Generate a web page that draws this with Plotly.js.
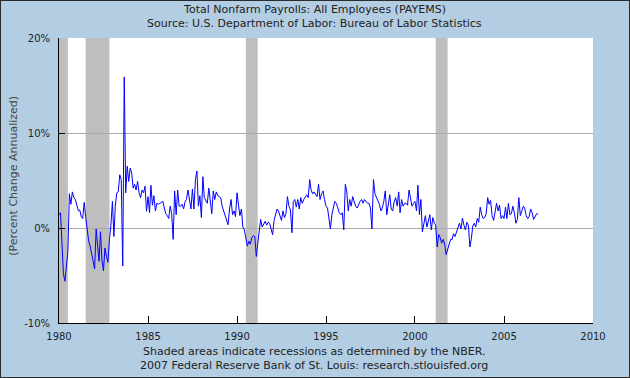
<!DOCTYPE html>
<html>
<head>
<meta charset="utf-8">
<script src="https://cdn.plot.ly/plotly-3.0.1.min.js"></script>
<style>
html,body{margin:0;padding:0;background:#B3CDE3;}
#chart{width:628px;height:376px;border:1px solid #2b2b2b;}
</style>
</head>
<body>
<div id="chart"></div>
<script>
// Monthly percent change (annualized), Jan 1980 - Dec 2006
const startYear = 1980;
const pct1980s = [
  1.4, 1.6, -1.5, -4.8, -5.6, -4.0, -2.5, 3.6, 2.5, 3.8, 3.2, 3.0,     // 1980
  2.5, 1.8, 1.9, 1.2, 1.0, 2.7, 1.2, -0.5, -1.4, -1.9, -2.8, -3.7,     // 1981
  -4.3, -0.1, -1.9, -3.5, -0.4, -3.4, -4.5, -2.1, -3.0, -3.6, -1.2, 0.3, // 1982
  2.8, -0.9, 2.3, 3.7, 3.8, 5.6, 5.1, -4.0, 15.9, 3.7, 6.5, 4.9,        // 1983
  6.3, 5.8, 4.2, 4.6, 4.0, 4.9, 3.7, 3.2, 4.0, 3.7, 4.4, 1.75,         // 1984
  3.3, 1.6, 4.5, 2.4, 3.4, 1.8, 2.6, 2.5, 2.6, 2.7, 2.8, 2.1,          // 1985
  1.5, 1.3, 1.0, 2.3, 1.5, -1.2, 3.9, 1.4, 4.0, 2.3, 2.3, 2.5,         // 1986
  2.0, 2.8, 3.0, 4.0, 2.7, 2.0, 4.1, 2.0, 5.1, 6.0, 2.3, 3.4,          // 1987
  1.1, 5.4, 3.2, 2.8, 2.6, 4.2, 2.5, 1.5, 3.9, 3.0, 3.8, 3.4,          // 1988
  3.3, 3.2, 2.3, 1.8, 1.3, 0.7, 0.35, 2.0, 3.0, 1.4, 1.8, 1.2          // 1989
];
const pct1990s = [
  3.7, 2.4, 1.3, 2.0, 0.1, -0.2, -1.2, -1.9, -1.4, -1.7, -1.0, -0.8,   // 1990
  -0.9, -3.0, -1.7, -0.35, 0.9, 0.1, 0.4, 0.7, 0.3, 0.6, 0.5, -0.2,    // 1991
  -0.7, 0.8, 1.4, 2.0, 1.8, 1.2, 0.8, 1.8, 1.1, 1.5, 3.3, 2.3,         // 1992
  1.9, -0.5, 2.8, 3.0, 2.2, 3.0, 2.0, 3.2, 2.6, 3.0, 3.2, 3.5,         // 1993
  3.2, 5.1, 4.0, 3.6, 3.8, 3.6, 3.3, 4.6, 3.0, 3.6, 3.9, 3.0,          // 1994
  2.3, 2.1, 1.1, -0.1, 1.4, 2.3, 2.8, 2.6, 2.1, 1.6, 1.4, 1.6,         // 1995
  -0.2, 4.6, 3.9, 1.8, 3.0, 2.3, 3.3, 2.8, 2.3, 2.1, 2.5, 2.8,         // 1996
  3.0, 2.6, 3.0, 2.8, 2.6, 2.6, 2.1, -0.1, 5.1, 3.6, 3.2, 3.0,         // 1997
  2.5, 1.8, 2.1, 2.8, 3.9, 1.4, 2.3, 3.5, 2.0, 1.8, 2.8, 3.2,          // 1998
  2.3, 3.8, 1.6, 3.0, 2.3, 2.6, 2.6, 2.4, 4.0, 3.0, 2.3, 2.6           // 1999
];
const pct2000s = [
  2.8, 1.8, 4.5, 1.4, 3.0, -0.4, 0.7, 1.3, 0.1, 0.8, 1.4, -0.2,        // 2000
  1.1, 0.5, 0.3, -2.0, -0.7, -1.0, -1.6, -1.2, -1.7, -2.8, -2.3, -1.7, // 2001
  -1.2, -1.2, -0.6, -0.9, -0.4, -0.1, 0.5, -0.1, 1.05, 0.3, -0.2, 0.6, // 2002
  0.3, -2.0, -1.2, 0.2, 0.5, 0.1, 1.0, 0.6, 2.2, 1.4, 1.0, 1.1,        // 2003
  1.5, 3.2, 2.5, 2.9, 1.3, 0.8, 1.8, 2.6, 1.8, 2.4, 1.0, 1.3,          // 2004
  1.0, 2.2, 1.0, 2.6, 1.4, 1.5, 2.3, 1.6, 0.5, 0.9, 3.2, 1.3,          // 2005
  1.8, 2.3, 2.1, 1.3, 1.0, 1.2, 2.0, 1.6, 0.9, 1.3, 1.5, 1.5           // 2006
];
const recessionStart = ['1980-01-01', '1981-07-01', '1990-07-01', '2001-03-01'];
const recessionEnd   = ['1980-07-01', '1982-11-01', '1991-03-01', '2001-11-01'];
const yTickVals = [-10, 0, 10, 20];
const yTickText = ['-10%', '0%', '10%', '20%'];
const xTickVals = ['1980-01-01','1985-01-01','1990-01-01','1995-01-01','2000-01-01','2005-01-01','2010-01-01'];
const xTickText = ['1980','1985','1990','1995','2000','2005','2010'];

const values = pct1980s.concat(pct1990s, pct2000s);
const dates = values.map((v, i) => {
  const y = startYear + Math.floor(i / 12);
  const m = (i % 12) + 1;
  return y + '-' + (m < 10 ? '0' + m : m) + '-01';
});

const FONT = 'DejaVu Sans, Verdana, sans-serif';

const trace = {
  x: dates, y: values, type: 'scatter', mode: 'lines',
  line: {color: '#0000FF', width: 1}, hoverinfo: 'skip', showlegend: false
};

const shapes = recessionStart.map((s, i) => ({
  type: 'rect', xref: 'x', yref: 'paper', x0: s, x1: recessionEnd[i], y0: 0, y1: 1,
  fillcolor: '#BEBEBE', line: {width: 0}, layer: 'between'
}));

const layout = {
  width: 628, height: 376,
  margin: {l: 57.7, r: 36.3, t: 37.3, b: 53.7, pad: 0},
  paper_bgcolor: '#B3CDE3', plot_bgcolor: '#FFFFFF',
  font: {family: FONT, size: 10, color: '#222222'},
  title: {text: 'Total Nonfarm Payrolls: All Employees (PAYEMS)', font: {family: FONT, size: 11, color: '#222222'},
          x: 0.5, xref: 'container', xanchor: 'center', y: 1 - 8.5/376, yref: 'container', yanchor: 'middle'},
  xaxis: {
    type: 'date', range: ['1980-01-01', '2010-01-01'],
    tickmode: 'array', tickvals: xTickVals, ticktext: xTickText,
    ticks: 'inside', ticklen: 7, tickcolor: '#000000', tickwidth: 1,
    showline: true, linecolor: '#000000', linewidth: 1, mirror: false,
    showgrid: false, zeroline: false, ticklabelstandoff: 4,
    tickfont: {family: FONT, size: 10, color: '#222222'}, fixedrange: true
  },
  yaxis: {
    range: [-10, 20], tickmode: 'array', tickvals: yTickVals, ticktext: yTickText,
    ticks: 'inside', ticklen: 6, tickcolor: '#000000', tickwidth: 1,
    showline: true, linecolor: '#000000', linewidth: 1, mirror: false,
    showgrid: true, gridcolor: '#AAAAAA', gridwidth: 1, zeroline: false,
    ticklabelstandoff: 6,
    tickfont: {family: FONT, size: 10, color: '#222222'}, fixedrange: true
  },
  shapes: shapes,
  annotations: [
    {text: 'Source: U.S. Department of Labor: Bureau of Labor Statistics', xref: 'paper', yref: 'paper',
     x: (313 - 57.7) / 534, y: 1 + (37.3 - 22.3) / 285, xanchor: 'center', yanchor: 'middle',
     showarrow: false, font: {family: FONT, size: 11, color: '#222222'}},
    {text: '(Percent Change Annualized)', xref: 'paper', yref: 'paper', textangle: -90,
     x: (12.3 - 57.7) / 534, y: 0.5 + (180.8 - 176.5) / 285, xanchor: 'center', yanchor: 'middle',
     showarrow: false, font: {family: FONT, size: 11, color: '#444444'}},
    {text: 'Shaded areas indicate recessions as determined by the NBER.', xref: 'paper', yref: 'paper',
     x: (313 - 57.7) / 534, y: (322.3 - 351) / 285, xanchor: 'center', yanchor: 'middle',
     showarrow: false, font: {family: FONT, size: 11, color: '#222222'}},
    {text: '2007 Federal Reserve Bank of St. Louis: research.stlouisfed.org', xref: 'paper', yref: 'paper',
     x: (313 - 57.7) / 534, y: (322.3 - 365) / 285, xanchor: 'center', yanchor: 'middle',
     showarrow: false, font: {family: FONT, size: 11, color: '#222222'}}
  ]
};

Plotly.newPlot('chart', [trace], layout, {staticPlot: true, displayModeBar: false});
</script>
</body>
</html>
